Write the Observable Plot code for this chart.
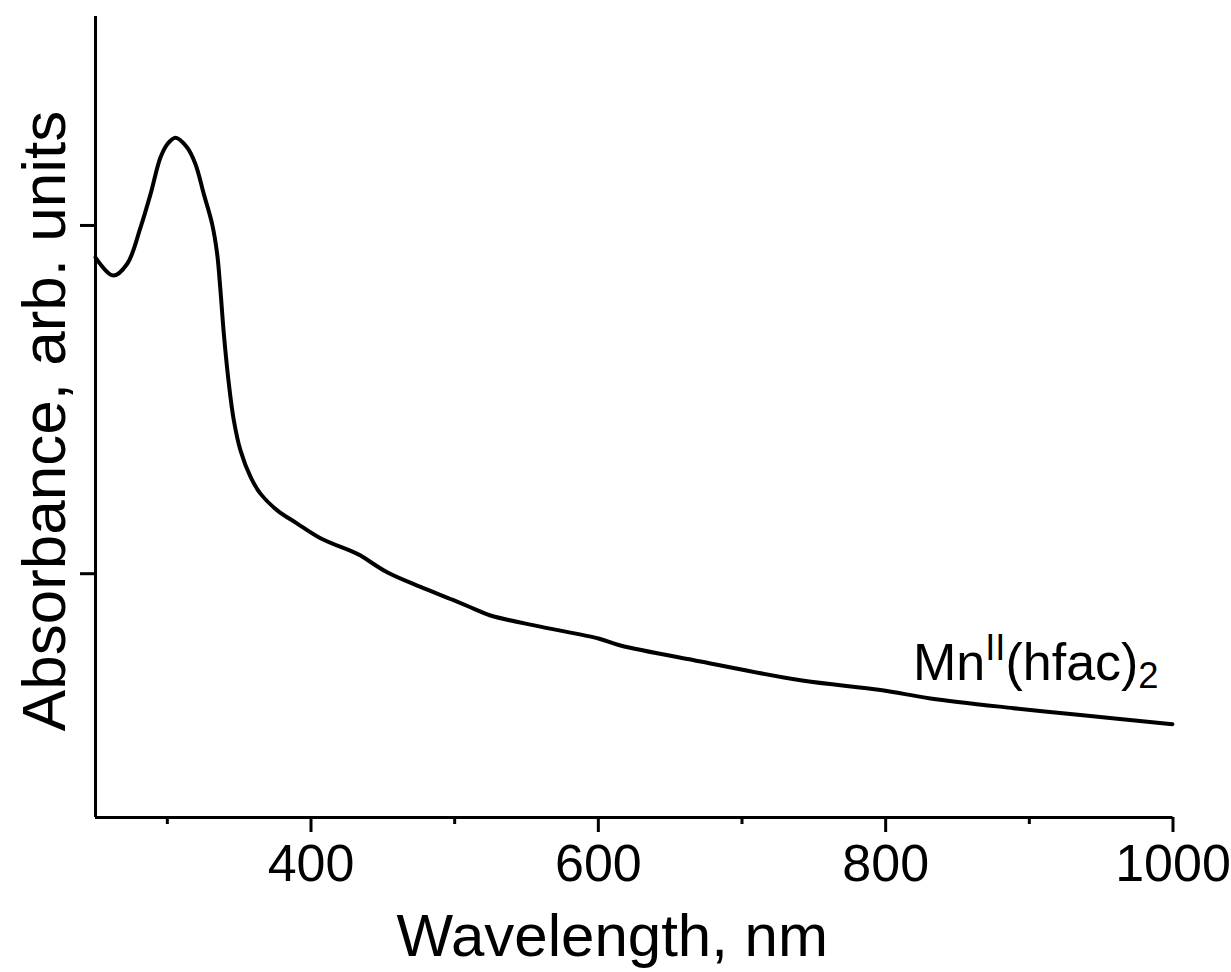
<!DOCTYPE html>
<html>
<head>
<meta charset="utf-8">
<script src="https://cdn.jsdelivr.net/npm/d3@7"></script>
<script src="https://cdn.jsdelivr.net/npm/@observablehq/plot@0.6"></script>
<style>
  html, body { margin: 0; padding: 0; background: white; }
  #chart { width: 1231px; height: 972px; }
</style>
</head>
<body>
<div id="chart"></div>
<script>
// Wavelength (nm) and absorbance (arb. units)
const wavelength = [250, 262.3, 272.1, 281.3, 288.3, 295.2, 300.1, 305.7, 313.8, 319.6,
  325.4, 331.2, 334.7, 337.0, 339.3, 342.8, 346.3, 350.9, 357.9, 364.8,
  376.5, 390.4, 406.6, 429.6, 434.5, 453.0, 476.2, 499.2, 513.1, 524.9,
  559.7, 600.1, 615.4, 671.1, 740.7, 796.4, 831.2, 889.0, 935.6, 999.6];
const absorbance = [0.954, 0.928, 0.945, 0.997, 1.045, 1.0975, 1.117, 1.126, 1.112, 1.088,
  1.045, 1.002, 0.959, 0.906, 0.845, 0.773, 0.720, 0.677, 0.639, 0.615,
  0.591, 0.572, 0.551, 0.531, 0.526, 0.502, 0.481, 0.462, 0.450, 0.440,
  0.424, 0.407, 0.397, 0.374, 0.347, 0.333, 0.321, 0.307, 0.297, 0.284];

const xMajorTicks = [400, 600, 800, 1000];
const xMinorTicks = [300, 500, 700, 900];
const yTicks = [0.5, 1.0];
const xDomain = [250, 1000];
const yDomain = [0.15, 1.3];

const xLabel = "Wavelength, nm";
const yLabel = "Absorbance, arb. units";
const seriesLabel = [{x: 819, y: 0.347, text: "Mn(hfac)"}];

const data = wavelength.map((w, i) => ({w, a: absorbance[i]}));

const chart = Plot.plot({
  width: 1231,
  height: 972,
  marginLeft: 95,
  marginRight: 58.5,
  marginTop: 16,
  marginBottom: 155,
  x: {domain: xDomain},
  y: {domain: yDomain},
  style: {fontFamily: "'Liberation Sans', Arial, sans-serif", background: "white", color: "black", overflow: "visible"},
  marks: [
    Plot.axisX({ticks: xMajorTicks, tickSize: 15, tickPadding: 12, fontSize: 52, tickFormat: d => String(d), label: null, strokeWidth: 3}),
    Plot.axisX({ticks: xMinorTicks, tickSize: 7, tickFormat: () => "", label: null, strokeWidth: 3}),
    Plot.axisY({ticks: yTicks, tickSize: 15, tickFormat: () => "", label: null, strokeWidth: 3}),
    Plot.ruleX([xDomain[0]], {strokeWidth: 3, stroke: "black"}),
    Plot.ruleY([yDomain[0]], {strokeWidth: 3, stroke: "black"}),
    Plot.line(data, {x: "w", y: "a", curve: "catmull-rom", stroke: "black", strokeWidth: 4}),
    Plot.text(seriesLabel, {x: "x", y: "y", text: "text", textAnchor: "start", lineAnchor: "bottom", fontSize: 52, fill: "black", className: "series-label"}),
    Plot.text([xLabel], {frameAnchor: "bottom", textAnchor: "middle", dx: -22, dy: 138, fontSize: 60, fill: "black"}),
    Plot.text([yLabel], {frameAnchor: "left", textAnchor: "middle", rotate: -90, dx: -50, dy: 4, fontSize: 62, fill: "black"})
  ]
});

document.getElementById("chart").appendChild(chart);

// Add superscript and subscript to the series label
d3.select(chart).selectAll("g.series-label text, .series-label text").each(function() {
  const t = d3.select(this);
  t.text(null);
  t.append("tspan").text("Mn");
  t.append("tspan").attr("dy", "-0.55em").attr("font-size", "0.7em").text("II");
  t.append("tspan").attr("dy", "0.385em").text("(hfac)");
  t.append("tspan").attr("dy", "0.22em").attr("font-size", "0.7em").text("2");
});
</script>
</body>
</html>
